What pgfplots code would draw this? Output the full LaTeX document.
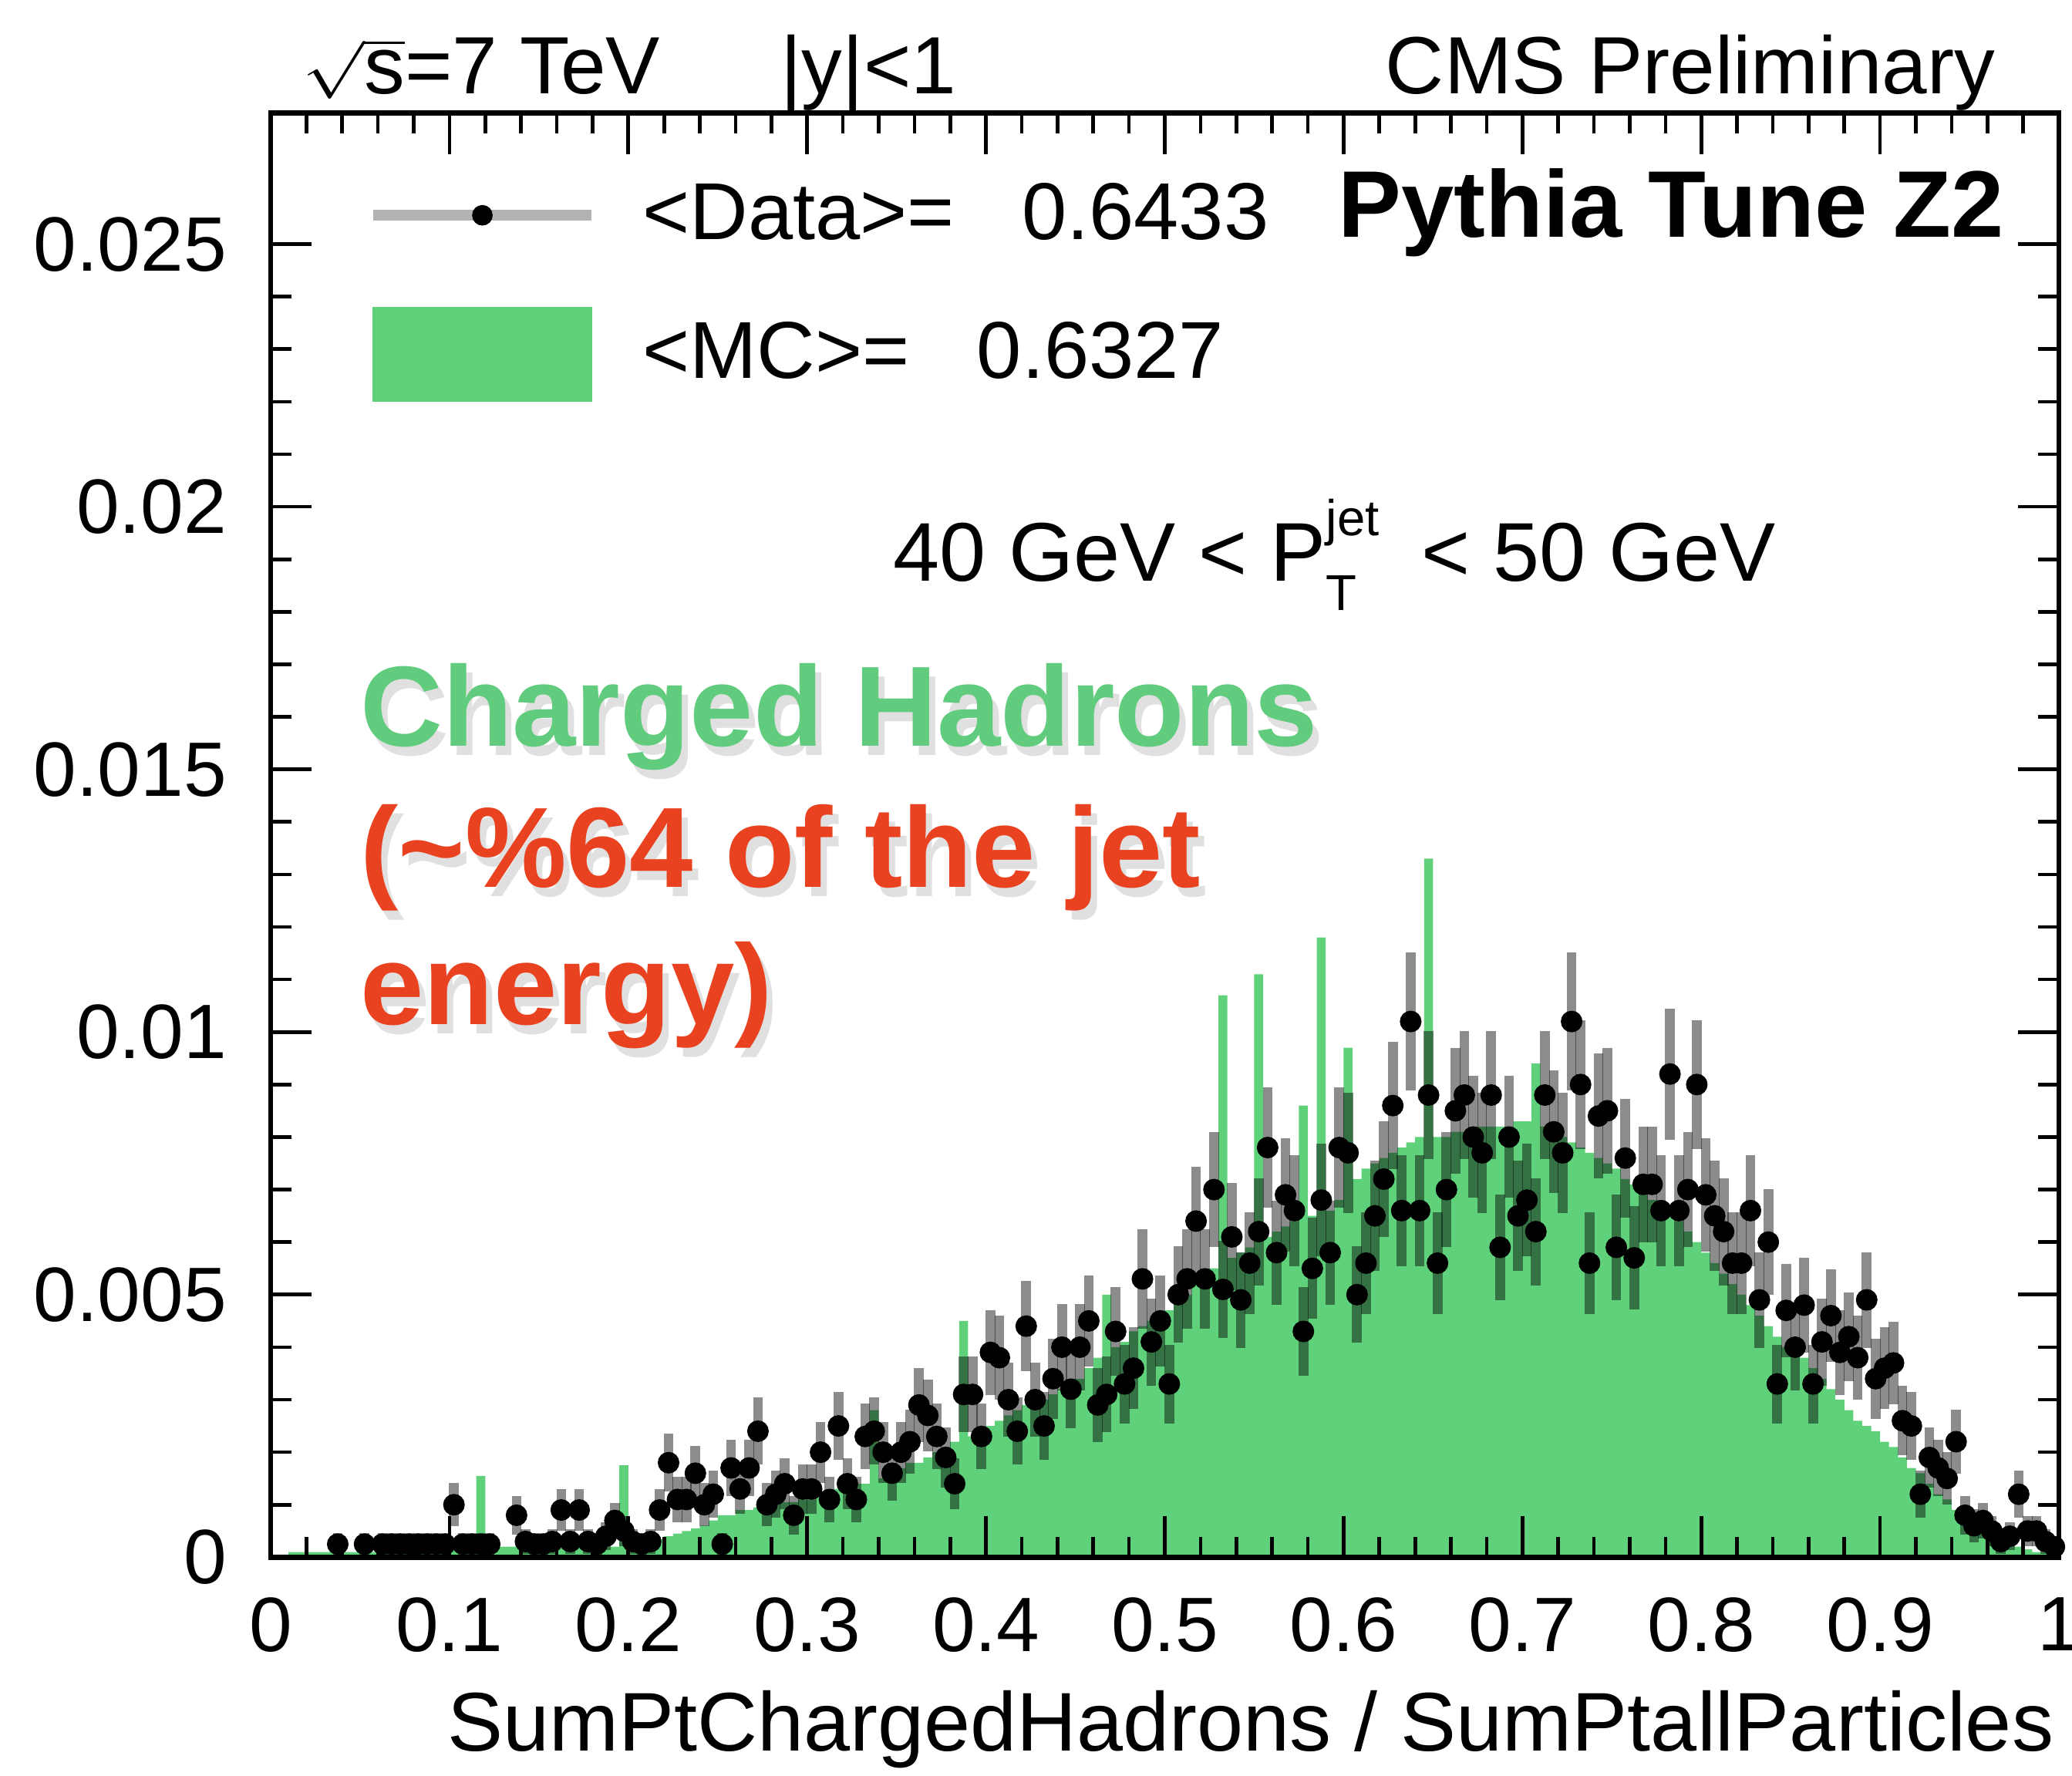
\documentclass[border=0pt]{standalone}
\usepackage{fontspec}
\setmainfont{Liberation Sans}
\usepackage{pgfplots}
\usepackage{pgfplotstable}
\pgfplotsset{compat=1.18}
\definecolor{hgreen}{RGB}{95,209,123}
\definecolor{tgreen}{RGB}{98,204,126}
\definecolor{tred}{RGB}{233,66,33}

% MC histogram: left bin edge, content (units of 1e-4)
\pgfplotstableread{
x y
0.000 0.5
0.005 0.5
0.010 1
0.015 1
0.020 1
0.025 1
0.030 1
0.035 1
0.040 1
0.045 1
0.050 1
0.055 1
0.060 1
0.065 1
0.070 1
0.075 1
0.080 1
0.085 1.5
0.090 1.5
0.095 1.5
0.100 1.5
0.105 1.5
0.110 2
0.115 15.5
0.120 2
0.125 2
0.130 2
0.135 2
0.140 2
0.145 2
0.150 2
0.155 2
0.160 2
0.165 2
0.170 2
0.175 2
0.180 2
0.185 2
0.190 2
0.195 17.5
0.200 2.5
0.205 3
0.210 3
0.215 3.5
0.220 4
0.225 4.5
0.230 5
0.235 5.5
0.240 6
0.245 7
0.250 8
0.255 8
0.260 9
0.265 9
0.270 9.5
0.275 10
0.280 10
0.285 10.5
0.290 10.5
0.295 11
0.300 11
0.305 12
0.310 12
0.315 13
0.320 13
0.325 14
0.330 14
0.335 28
0.340 15
0.345 16
0.350 17
0.355 18
0.360 18
0.365 19
0.370 20
0.375 21
0.380 22
0.385 45
0.390 23
0.395 24
0.400 25
0.405 26
0.410 27
0.415 28
0.420 29
0.425 30
0.430 30
0.435 31
0.440 32
0.445 33
0.450 34
0.455 36
0.460 38
0.465 50
0.470 40
0.475 41
0.480 43
0.485 44
0.490 45
0.495 46
0.500 47
0.505 49
0.510 50
0.515 52
0.520 54
0.525 55
0.530 107
0.535 57
0.540 58
0.545 59
0.550 111
0.555 61
0.560 62
0.565 63
0.570 64
0.575 86
0.580 65
0.585 118
0.590 66
0.595 68
0.600 97
0.605 72
0.610 74
0.615 75
0.620 76
0.625 77
0.630 78
0.635 79
0.640 80
0.645 133
0.650 80
0.655 80
0.660 81
0.665 81
0.670 81
0.675 82
0.680 82
0.685 82
0.690 82
0.695 83
0.700 83
0.705 94
0.710 82
0.715 81
0.720 80
0.725 79
0.730 78
0.735 77
0.740 76
0.745 75
0.750 74
0.755 72
0.760 71
0.765 70
0.770 68
0.775 67
0.780 65
0.785 64
0.790 62
0.795 60
0.800 58
0.805 56
0.810 54
0.815 52
0.820 50
0.825 48
0.830 46
0.835 44
0.840 42
0.845 40
0.850 39
0.855 38
0.860 36
0.865 34
0.870 32
0.875 30
0.880 28
0.885 26
0.890 25
0.895 24
0.900 22
0.905 21
0.910 19
0.915 17
0.920 16
0.925 14
0.930 12
0.935 11
0.940 9
0.945 8
0.950 6
0.955 5
0.960 4
0.965 3.5
0.970 3
0.975 2
0.980 1.5
0.985 1
0.990 1
0.995 0.5
1.000 0.5
}\mcdata

% Data: bin centre, content, error (units of 1e-4)
\pgfplotstableread{
x y e
0.0375 2.5 2.1
0.0525 2.5 2.1
0.0625 2.5 2.1
0.0675 2.5 2.1
0.0725 2.5 2.1
0.0775 2.5 2.1
0.0825 2.5 2.1
0.0875 2.5 2.1
0.0925 2.5 2.1
0.0975 2.5 2.1
0.1025 10 4.1
0.1075 2.5 2.1
0.1125 2.5 2.1
0.1175 2.5 2.1
0.1225 2.5 2.1
0.1375 8 3.7
0.1425 3 2.3
0.1475 2.5 2.1
0.1525 2.5 2.1
0.1575 3 2.3
0.1625 9 3.9
0.1675 3 2.3
0.1725 9 3.9
0.1775 3 2.3
0.1825 2.5 2.1
0.1875 4 2.6
0.1925 7 3.4
0.1975 5 2.9
0.2025 3 2.3
0.2075 2.5 2.1
0.2125 3 2.3
0.2175 9 3.9
0.2225 18 5.5
0.2275 11 4.3
0.2325 11 4.3
0.2375 16 5.2
0.2425 10 4.1
0.2475 12 4.5
0.2525 2.5 2.1
0.2575 17 5.4
0.2625 13 4.7
0.2675 17 5.4
0.2725 24 6.4
0.2775 10 4.1
0.2825 12 4.5
0.2875 14 4.9
0.2925 8 3.7
0.2975 13 4.7
0.3025 13 4.7
0.3075 20 5.8
0.3125 11 4.3
0.3175 25 6.5
0.3225 14 4.9
0.3275 11 4.3
0.3325 23 6.2
0.3375 24 6.4
0.3425 20 5.8
0.3475 16 5.2
0.3525 20 5.8
0.3575 22 6.1
0.3625 29 7.0
0.3675 27 6.8
0.3725 23 6.2
0.3775 19 5.7
0.3825 14 4.9
0.3875 31 7.2
0.3925 31 7.2
0.3975 23 6.2
0.4025 39 8.1
0.4075 38 8.0
0.4125 30 7.1
0.4175 24 6.4
0.4225 44 8.6
0.4275 30 7.1
0.4325 25 6.5
0.4375 34 7.6
0.4425 40 8.2
0.4475 32 7.4
0.4525 40 8.2
0.4575 45 8.7
0.4625 29 7.0
0.4675 31 7.2
0.4725 43 8.5
0.4775 33 7.5
0.4825 36 7.8
0.4875 53 9.5
0.4925 41 8.3
0.4975 45 8.7
0.5025 33 7.5
0.5075 50 9.2
0.5125 53 9.5
0.5175 64 10.4
0.5225 53 9.5
0.5275 70 10.9
0.5325 51 9.3
0.5375 61 10.2
0.5425 49 9.1
0.5475 56 9.7
0.5525 62 10.2
0.5575 78 11.5
0.5625 58 9.9
0.5675 69 10.8
0.5725 66 10.6
0.5775 43 8.5
0.5825 55 9.6
0.5875 68 10.7
0.5925 58 9.9
0.5975 78 11.5
0.6025 77 11.4
0.6075 50 9.2
0.6125 56 9.7
0.6175 65 10.5
0.6225 72 11.0
0.6275 86 12.1
0.6325 66 10.6
0.6375 102 13.1
0.6425 66 10.6
0.6475 88 12.2
0.6525 56 9.7
0.6575 70 10.9
0.6625 85 12.0
0.6675 88 12.2
0.6725 80 11.6
0.6775 77 11.4
0.6825 88 12.2
0.6875 59 10.0
0.6925 80 11.6
0.6975 65 10.5
0.7025 68 10.7
0.7075 62 10.2
0.7125 88 12.2
0.7175 81 11.7
0.7225 77 11.4
0.7275 102 13.1
0.7325 90 12.3
0.7375 56 9.7
0.7425 84 11.9
0.7475 85 12.0
0.7525 59 10.0
0.7575 76 11.3
0.7625 57 9.8
0.7675 71 11.0
0.7725 71 11.0
0.7775 66 10.6
0.7825 92 12.5
0.7875 66 10.6
0.7925 70 10.9
0.7975 90 12.3
0.8025 69 10.8
0.8075 65 10.5
0.8125 62 10.2
0.8175 56 9.7
0.8225 56 9.7
0.8275 66 10.6
0.8325 49 9.1
0.8375 60 10.1
0.8425 33 7.5
0.8475 47 8.9
0.8525 40 8.2
0.8575 48 9.0
0.8625 33 7.5
0.8675 41 8.3
0.8725 46 8.8
0.8775 39 8.1
0.8825 42 8.4
0.8875 38 8.0
0.8925 49 9.1
0.8975 34 7.6
0.9025 36 7.8
0.9075 37 7.9
0.9125 26 6.6
0.9175 25 6.5
0.9225 12 4.5
0.9275 19 5.7
0.9325 17 5.4
0.9375 15 5.0
0.9425 22 6.1
0.9475 8 3.7
0.9525 6 3.2
0.9575 7 3.4
0.9625 5 2.9
0.9675 3 2.3
0.9725 4 2.6
0.9775 12 4.5
0.9825 5 2.9
0.9875 5 2.9
0.9925 3 2.3
0.9975 2 1.8
}\datatab

\newcommand{\shadowtext}[4]{% position, colour, font, text
  \node[anchor=base west, inner sep=0pt, font=#3, text=black, opacity=0.12] at ([xshift=1.2pt,yshift=-1.8pt]#1) {#4};
  \node[anchor=base west, inner sep=0pt, font=#3, text=#2] at (#1) {#4};
}

\begin{document}
\begin{tikzpicture}
\path[use as bounding box] (-52.65pt,-42.45pt) rectangle (350.4pt,302.9pt);
\begin{axis}[
  at={(0,0)}, anchor=south west,
  scale only axis, width=347.85pt, height=280.95pt,
  xmin=0, xmax=1, ymin=0, ymax=275,
  xtick={0,0.1,0.2,0.3,0.4,0.5,0.6,0.7,0.8,0.9,1},
  xticklabels={0,0.1,0.2,0.3,0.4,0.5,0.6,0.7,0.8,0.9,1},
  ytick={0,50,100,150,200,250},
  yticklabels={0,0.005,0.01,0.015,0.02,0.025},
  scaled y ticks=false, scaled x ticks=false,
  minor x tick num=4, minor y tick num=4,
  tick align=inside, major tick length=8pt, minor tick length=4pt,
  every tick/.style={black, line width=0.7pt},
  axis line style={line width=1pt},
  axis on top,
  clip=false,
  /pgf/number format/assume math mode=true,
  every tick label/.append style={inner sep=0pt, font=\fontsize{15}{15}\selectfont},
  xticklabel style={yshift=-7.6pt},
  yticklabel style={xshift=-8.4pt},
  xlabel={SumPtChargedHadrons / SumPtallParticles},
  xlabel style={at={(rel axis cs:1,0)}, anchor=base east, yshift=-37.7pt, xshift=-0.8pt, inner sep=0pt, font=\fontsize{16.2}{16.2}\selectfont},
  legend cell align=left,
  legend style={at={(axis cs:0.054,264.5)}, anchor=north west, draw=none, fill=none,
    inner sep=0pt, row sep=8.8pt, font=\fontsize{15.7}{15.7}\selectfont,
    nodes={inner sep=0pt},
    /tikz/every odd column/.append style={column sep=9pt}},
]
\addlegendimage{legend image code/.code={
  \path[draw=none, fill=none] (0pt,-9pt) rectangle (42.4pt,9pt);
  \draw[black!30, line width=2pt] (0pt,0pt) -- (42.4pt,0pt);
  \fill[black] (21.2pt,0pt) circle (1.8pt);}}
\addlegendentry{<Data>=\ \ \ 0.6433}
\addlegendimage{legend image code/.code={
  \fill[hgreen] (0pt,-9pt) rectangle (42.4pt,9pt);}}
\addlegendentry{<MC>=\ \ \ 0.6327}

\addplot[const plot, fill=hgreen, draw=none, forget plot] table[x=x, y=y] {\mcdata} \closedcycle;

\addplot[only marks, mark=*, mark size=1.9pt, mark options={fill=black, draw=black}, forget plot,
  error bars/.cd, y dir=both, y explicit,
  error bar style={line width=1.9pt, black, opacity=0.45}, error mark=none]
  table[x=x, y=y, y error=e] {\datatab};

\node[anchor=base west, inner sep=0pt, font=\fontsize{15.8}{15.8}\selectfont] at (axis cs:0.0173,278.6)
  {\scalebox{1}[0.78]{$\sqrt{\mbox{\scalebox{1}[1.282]{s}}}$}=7 TeV};
\node[anchor=base west, inner sep=0pt, font=\fontsize{15.8}{15.8}\selectfont] at (axis cs:0.2847,278.6) {|y|<1};
\node[anchor=base east, inner sep=0pt, font=\fontsize{15.8}{15.8}\selectfont] at (axis cs:0.9648,278.6) {CMS Preliminary};
\node[anchor=base west, inner sep=0pt, font=\bfseries\fontsize{18.4}{18.4}\selectfont] at (axis cs:0.5965,251.4) {Pythia Tune Z2};
\node[anchor=base west, inner sep=0pt, font=\fontsize{16.2}{16.2}\selectfont] at (axis cs:0.3476,185.9)
  {40 GeV < P\rlap{\raisebox{8.8pt}{\fontsize{9.8}{9.8}\selectfont jet}}\raisebox{-5.8pt}{\fontsize{9.8}{9.8}\selectfont T}\hspace{8pt} < 50 GeV};
\shadowtext{axis cs:0.0496,154.4}{tgreen}{\bfseries\fontsize{22.2}{22.2}\selectfont}{Charged Hadrons}
\shadowtext{axis cs:0.0496,127.5}{tred}{\bfseries\fontsize{22.2}{22.2}\selectfont}{(\textasciitilde\%64 of the jet}
\shadowtext{axis cs:0.0496,101.5}{tred}{\bfseries\fontsize{22.2}{22.2}\selectfont}{energy)}
\end{axis}
\end{tikzpicture}
\end{document}
